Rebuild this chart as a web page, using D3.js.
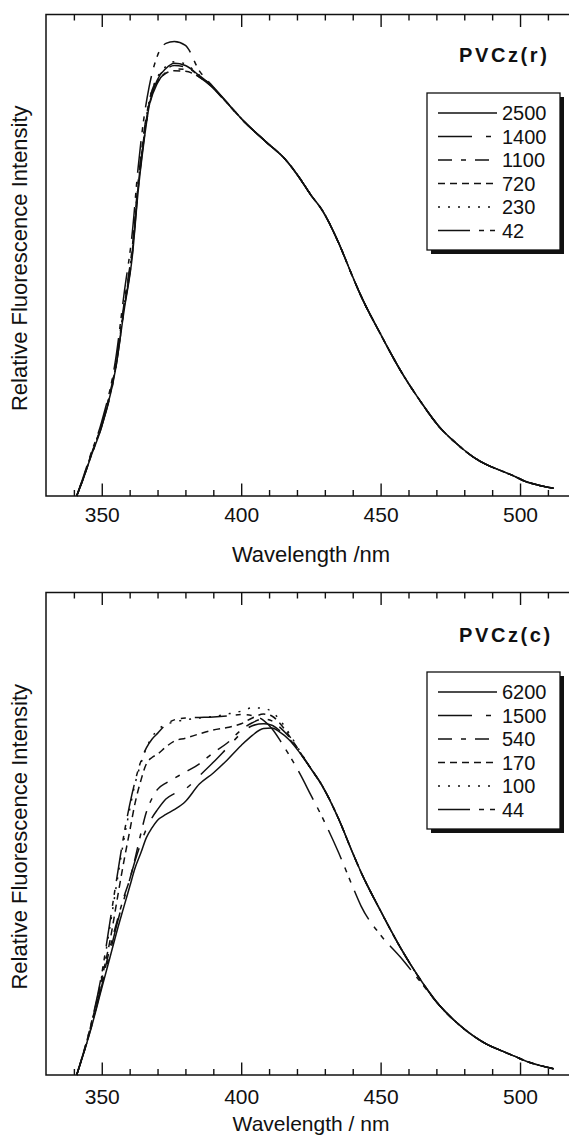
<!DOCTYPE html>
<html>
<head>
<meta charset="utf-8">
<script src="https://cdn.jsdelivr.net/npm/d3@7"></script>
<style>
  body { margin: 0; background: #fff; }
  svg { display: block; font-family: "Liberation Sans", Arial, sans-serif; }
</style>
</head>
<body>
<svg id="chart" width="569" height="1135"></svg>
<script>
// ---- data (relative intensity, 0..100 of the frame height)
var majorTicks = [350, 400, 450, 500];
var minorTicks = [340, 360, 370, 380, 390, 410, 420, 430, 440, 460, 470, 480, 490, 510, 520];

var topNames = ["2500", "1400", "1100", "720", "230", "42"];
var topWl = [341,343,346,350,355,358,361,363,365,367,370,373,376,380,385,389,395,401,409,416,421,
             425,429,435,440,443,450,457,464,471,477,483,488,493,498,502,507,512];
var top2500 = [0,3,8,14.5,26.5,38.5,50,63,73,81,86.5,88.8,89.9,89.4,87.3,85.4,81.6,77.8,73.5,69.8,66,
               62.5,59.4,52.5,45.5,41.5,33.6,26.2,19.9,14.4,11,8.2,6.5,5.3,4.1,3,2.2,1.6];
var top1400 = [0,3,8,14.5,26.5,38.8,50.5,63.5,73.5,80.8,85.8,88,88.7,88.6,87,85.2,81.5,77.8,73.5,69.8,66,
               62.5,59.4,52.5,45.5,41.5,33.6,26.2,19.9,14.4,11,8.2,6.5,5.3,4.1,3,2.2,1.6];
var top1100 = [0,3.2,8.3,15,27.5,40,52,65,75,82,86.8,88.6,89.4,89.1,87.2,85.3,81.6,77.8,73.5,69.8,66,
               62.5,59.4,52.5,45.5,41.5,33.6,26.2,19.9,14.4,11,8.2,6.5,5.3,4.1,3,2.2,1.6];
var top720  = [0,3,8.1,14.8,27,39.2,51,64,74,81.5,86,87.8,88.3,88.2,87,85.3,81.6,77.8,73.5,69.8,66,
               62.5,59.4,52.5,45.5,41.5,33.6,26.2,19.9,14.4,11,8.2,6.5,5.3,4.1,3,2.2,1.6];
var top230  = [0,3.1,8.2,14.9,27,39.5,51.5,64.5,74.5,82,87,89.2,90.2,89.7,87.4,85.4,81.6,77.8,73.5,69.8,66,
               62.5,59.4,52.5,45.5,41.5,33.6,26.2,19.9,14.4,11,8.2,6.5,5.3,4.1,3,2.2,1.6];
var top42   = [0,3.3,8.6,15.5,28.5,42,55,68,78,85,91.5,94,94.4,93.6,88.3,85.6,81.7,77.8,73.5,69.8,66,
               62.5,59.4,52.5,45.5,41.5,33.6,26.2,19.9,14.4,11,8.2,6.5,5.3,4.1,3,2.2,1.6];

var botNames = ["6200", "1500", "540", "170", "100", "44"];
var botWl = [341,346,350,353,356,358,360,362,364,366,368,370,373,376,380,385,390,395,400,404,408,411,414,417,421,
             425,429,435,440,443,450,457,464,471,477,483,488,493,498,502,507,512];
var bot6200 = [0,9.3,18,24.5,31,35,39,43,46,49.2,51.2,52.8,54,55,56.7,60.3,62.6,65.3,68.3,70.4,71.8,71.9,71,69.6,66.8,
               63.5,60,53,46,42,34,26.5,20,14.5,11,8.2,6.4,5.1,3.9,2.9,2,1.3];
var bot1500 = [0,9.4,18.5,25.5,32.5,36.5,40.5,44.5,48,51,53.3,55,57.2,58.3,59.3,62,64.8,67.8,70.8,72.4,72.8,72.5,71.3,69.8,66.8,
               63.5,60,53,46,42,34,26.5,20,14.5,11,8.2,6.4,5.1,3.9,2.9,2,1.3];
var bot540  = [0,9.5,19,26.5,33,37,40.5,45,50,54.5,57.3,59.2,60.5,61.5,62.8,64.5,66.8,68.8,71.5,73,73.8,73.4,72,70.2,67,
               63.5,60,53,46,42,34,26.5,20,14.5,11,8.2,6.4,5.1,3.9,2.9,2,1.3];
var bot170  = [0,10,20,28,38,44.5,50.5,56.5,61,64.5,65.8,66.5,68,69.2,69.8,70.7,71.5,72,72.8,74,74.8,74.4,72.8,70.5,67,
               63.5,60,53,46,42,34,26.5,20,14.5,11,8.2,6.4,5.1,3.9,2.9,2,1.3];
var bot100  = [0,10,20.5,31,42,49,55,60.5,64.5,67.8,70,71.5,72.6,73.2,73.6,74,74.3,74.8,75.4,76.1,76,75.3,73.5,71,67.2,
               63.5,60,53,46,42,34,26.5,20,14.5,11,8.2,6.4,5.1,3.9,2.9,2,1.3];
var bot44   = [0,10.2,21,32,43,50,56,61,65,67.8,69.6,70.8,72.6,73.6,74,74.1,74.2,74.4,74.7,74.5,73.5,71.8,69.3,66.5,62.5,
               58,53.5,46,39,35,29,24.5,19.5,14.5,11,8.2,6.4,5.1,3.9,2.9,2,1.3];

// line styles, same order in both panels
var dashes = [null, "34,14,5,14", "14,9,5,9", "7,5", "2,8", "32,9,5,6,5,9"];

var panels = [
  {top: 14.5, bottom: 496, pad: 11, title: "Wavelength /nm", titleY: 562, titleSize: 22,
   tag: "PVCz(r)", tagY: 62, legY: 93, wl: topWl, names: topNames,
   series: [top2500, top1400, top1100, top720, top230, top42]},
  {top: 592.5, bottom: 1075, pad: 14, title: "Wavelength / nm", titleY: 1131, titleSize: 21,
   tag: "PVCz(c)", tagY: 642, legY: 672, wl: botWl, names: botNames,
   series: [bot6200, bot1500, bot540, bot170, bot100, bot44]}
];

var svg = d3.select("#chart");
var x = d3.scaleLinear().domain([330, 520]).range([46, 575.8]);

panels.forEach(p => {
  var y = d3.scaleLinear().domain([0, 100]).range([p.bottom, p.top]);
  var g = svg.append("g");

  // curves
  var line = d3.line()
    .x(d => x(d[0]))
    .y(d => y(d[1]))
    .curve(d3.curveMonotoneX);

  p.series.forEach((vals, i) => {
    g.append("path")
      .datum(vals.map((v, k) => [p.wl[k], v]))
      .attr("fill", "none")
      .attr("stroke", "#111")
      .attr("stroke-width", 1.5)
      .attr("stroke-dasharray", dashes[i])
      .attr("d", line);
  });

  // frame
  g.append("rect")
    .attr("x", x(330)).attr("y", p.top)
    .attr("width", x(520) - x(330)).attr("height", p.bottom - p.top)
    .attr("fill", "none").attr("stroke", "#111").attr("stroke-width", 1.5);

  // bottom axis, ticks pointing inward
  var bMaj = g.append("g").attr("transform", "translate(0," + p.bottom + ")")
    .call(d3.axisBottom(x).tickValues(majorTicks).tickSize(-12.5).tickPadding(p.pad).tickFormat(d3.format("d")));
  var bMin = g.append("g").attr("transform", "translate(0," + p.bottom + ")")
    .call(d3.axisBottom(x).tickValues(minorTicks).tickSize(-6).tickFormat(""));
  var tMaj = g.append("g").attr("transform", "translate(0," + p.top + ")")
    .call(d3.axisTop(x).tickValues(majorTicks).tickSize(-12.5).tickFormat(""));
  var tMin = g.append("g").attr("transform", "translate(0," + p.top + ")")
    .call(d3.axisTop(x).tickValues(minorTicks).tickSize(-6).tickFormat(""));

  [bMaj, bMin, tMaj, tMin].forEach(a => {
    a.select(".domain").remove();
    a.selectAll("line").attr("stroke", "#111").attr("stroke-width", 1.4);
  });
  bMaj.selectAll("text")
    .attr("font-family", "'Liberation Sans', Arial, sans-serif")
    .attr("font-size", 21).attr("fill", "#111");

  // axis titles
  g.append("text")
    .attr("x", 311).attr("y", p.titleY)
    .attr("text-anchor", "middle").attr("font-size", p.titleSize).attr("fill", "#111")
    .text(p.title);

  g.append("text")
    .attr("transform", "translate(27," + ((p.top + p.bottom) / 2 + 3) + ") rotate(-90)")
    .attr("text-anchor", "middle").attr("font-size", 22).attr("fill", "#111")
    .text("Relative Fluorescence Intensity");

  // sample tag
  g.append("text")
    .attr("x", 459).attr("y", p.tagY)
    .attr("font-size", 20).attr("font-weight", "bold").attr("letter-spacing", 2.6)
    .attr("fill", "#111")
    .text(p.tag);

  // legend with drop shadow
  var lg = g.append("g");
  lg.append("rect")
    .attr("x", 431).attr("y", p.legY + 4).attr("width", 133).attr("height", 157)
    .attr("fill", "#111");
  lg.append("rect")
    .attr("x", 427).attr("y", p.legY).attr("width", 133).attr("height", 157)
    .attr("fill", "#fff").attr("stroke", "#111").attr("stroke-width", 1.3);

  p.names.forEach((n, i) => {
    var ry = p.legY + 20 + i * 23.5;
    lg.append("line")
      .attr("x1", 438).attr("x2", 497).attr("y1", ry).attr("y2", ry)
      .attr("stroke", "#111").attr("stroke-width", 1.5)
      .attr("stroke-dasharray", dashes[i]);
    lg.append("text")
      .attr("x", 502).attr("y", ry + 7)
      .attr("font-size", 20).attr("fill", "#111")
      .text(n);
  });
});
</script>
</body>
</html>
